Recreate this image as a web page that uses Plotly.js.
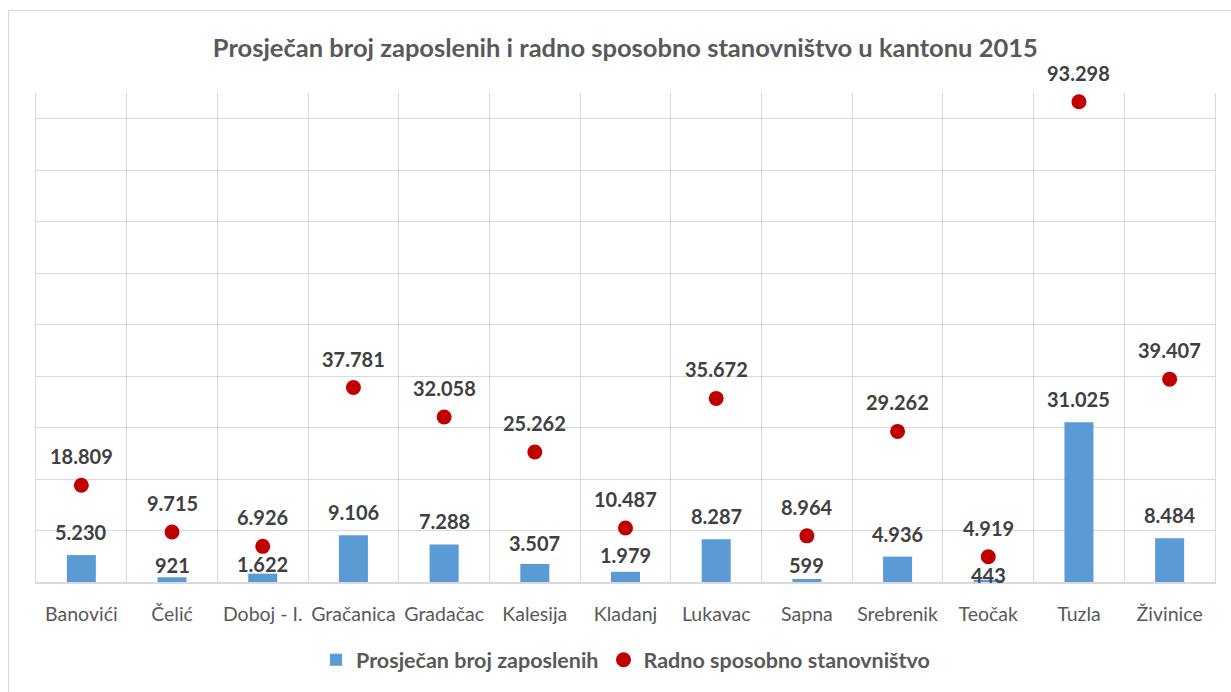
<!DOCTYPE html>
<html>
<head>
<meta charset="utf-8">
<script src="https://cdn.plot.ly/plotly-3.0.1.min.js"></script>
<style>
  html, body { margin: 0; padding: 0; background: #ffffff; overflow: hidden; }
  #frame { position: absolute; left: 8px; top: 10px; width: 1400px; height: 900px; border: 1px solid #d9d9d9; box-sizing: border-box; }
  #chart { position: absolute; left: 0; top: 0; width: 1231px; height: 692px; }
</style>
</head>
<body>
<div id="frame"></div>
<div id="chart"></div>
<script>
const categories = ["Banovići", "Čelić", "Doboj - I.", "Gračanica", "Gradačac", "Kalesija", "Kladanj", "Lukavac", "Sapna", "Srebrenik", "Teočak", "Tuzla", "Živinice"];
const zaposleni = [5230, 921, 1622, 9106, 7288, 3507, 1979, 8287, 599, 4936, 443, 31025, 8484];
const stanovnistvo = [18809, 9715, 6926, 37781, 32058, 25262, 10487, 35672, 8964, 29262, 4919, 93298, 39407];
const seriesNames = ["Prosječan broj zaposlenih", "Radno sposobno stanovništvo"];
const chartTitle = "Prosječan broj zaposlenih i radno sposobno stanovništvo u kantonu 2015";

// label placement (style only)
const barLabelShiftDefault = 23;
const barLabelShiftByCategory = { "Čelić": 12, "Doboj - I.": 10, "Kladanj": 17, "Sapna": 14, "Teočak": 5, "Kalesija": 21 };
const dotLabelShift = 29;

function fmt(v) {
  return String(v).replace(/\B(?=(\d{3})+(?!\d))/g, ".");
}

const FONT = "Lato, 'Open Sans', sans-serif";
const TXT = "#404040";
const GRAY = "#595959";

const traces = [
  {
    type: "bar",
    name: seriesNames[0],
    x: categories,
    y: zaposleni,
    width: 0.32,
    marker: { color: "#5b9bd5" },
    hoverinfo: "x+y"
  },
  {
    type: "scatter",
    mode: "markers",
    name: seriesNames[1],
    x: categories,
    y: stanovnistvo,
    marker: { color: "#c00000", size: 15 },
    hoverinfo: "x+y"
  }
];

const annotations = [];
categories.forEach((c, i) => {
  const sh = (c in barLabelShiftByCategory) ? barLabelShiftByCategory[c] : barLabelShiftDefault;
  annotations.push({
    x: c, y: zaposleni[i], xref: "x", yref: "y",
    text: fmt(zaposleni[i]), showarrow: false, yanchor: "middle", yshift: sh,
    font: { family: FONT, size: 20, color: TXT, weight: 700 }
  });
  annotations.push({
    x: c, y: stanovnistvo[i], xref: "x", yref: "y",
    text: fmt(stanovnistvo[i]), showarrow: false, yanchor: "middle", yshift: dotLabelShift,
    font: { family: FONT, size: 20, color: TXT, weight: 700 }
  });
});

const layout = {
  width: 1231,
  height: 692,
  paper_bgcolor: "rgba(0,0,0,0)",
  plot_bgcolor: "rgba(0,0,0,0)",
  margin: { l: 36, r: 16, t: 93, b: 108 },
  font: { family: FONT, color: GRAY },
  title: {
    text: chartTitle,
    x: 0.508, xanchor: "center",
    y: 0.93, yanchor: "middle",
    font: { family: FONT, size: 25.5, color: GRAY, weight: 700 }
  },
  xaxis: {
    type: "category",
    range: [-0.5, categories.length - 0.5],
    tickson: "boundaries",
    tickangle: 0,
    automargin: false,
    showgrid: true,
    gridcolor: "#d9d9d9",
    gridwidth: 1.3,
    showline: true,
    linecolor: "#d9d9d9",
    linewidth: 2,
    ticks: "",
    ticklabelstandoff: 14,
    tickfont: { family: FONT, size: 19.5, color: GRAY },
    fixedrange: true
  },
  yaxis: {
    range: [0, 95000],
    dtick: 10000,
    showgrid: true,
    gridcolor: "#d9d9d9",
    gridwidth: 1.3,
    zeroline: false,
    showticklabels: false,
    showline: true,
    mirror: true,
    linecolor: "#d9d9d9",
    linewidth: 1.3,
    fixedrange: true
  },
  showlegend: true,
  legend: {
    orientation: "h",
    x: 0.5, xanchor: "center",
    y: -0.159, yanchor: "middle",
    font: { family: FONT, size: 21.5, color: GRAY, weight: 700 },
    itemclick: false, itemdoubleclick: false,
    traceorder: "normal"
  },
  annotations: annotations
};

Plotly.newPlot("chart", traces, layout, { displayModeBar: false, staticPlot: false });
</script>
</body>
</html>
